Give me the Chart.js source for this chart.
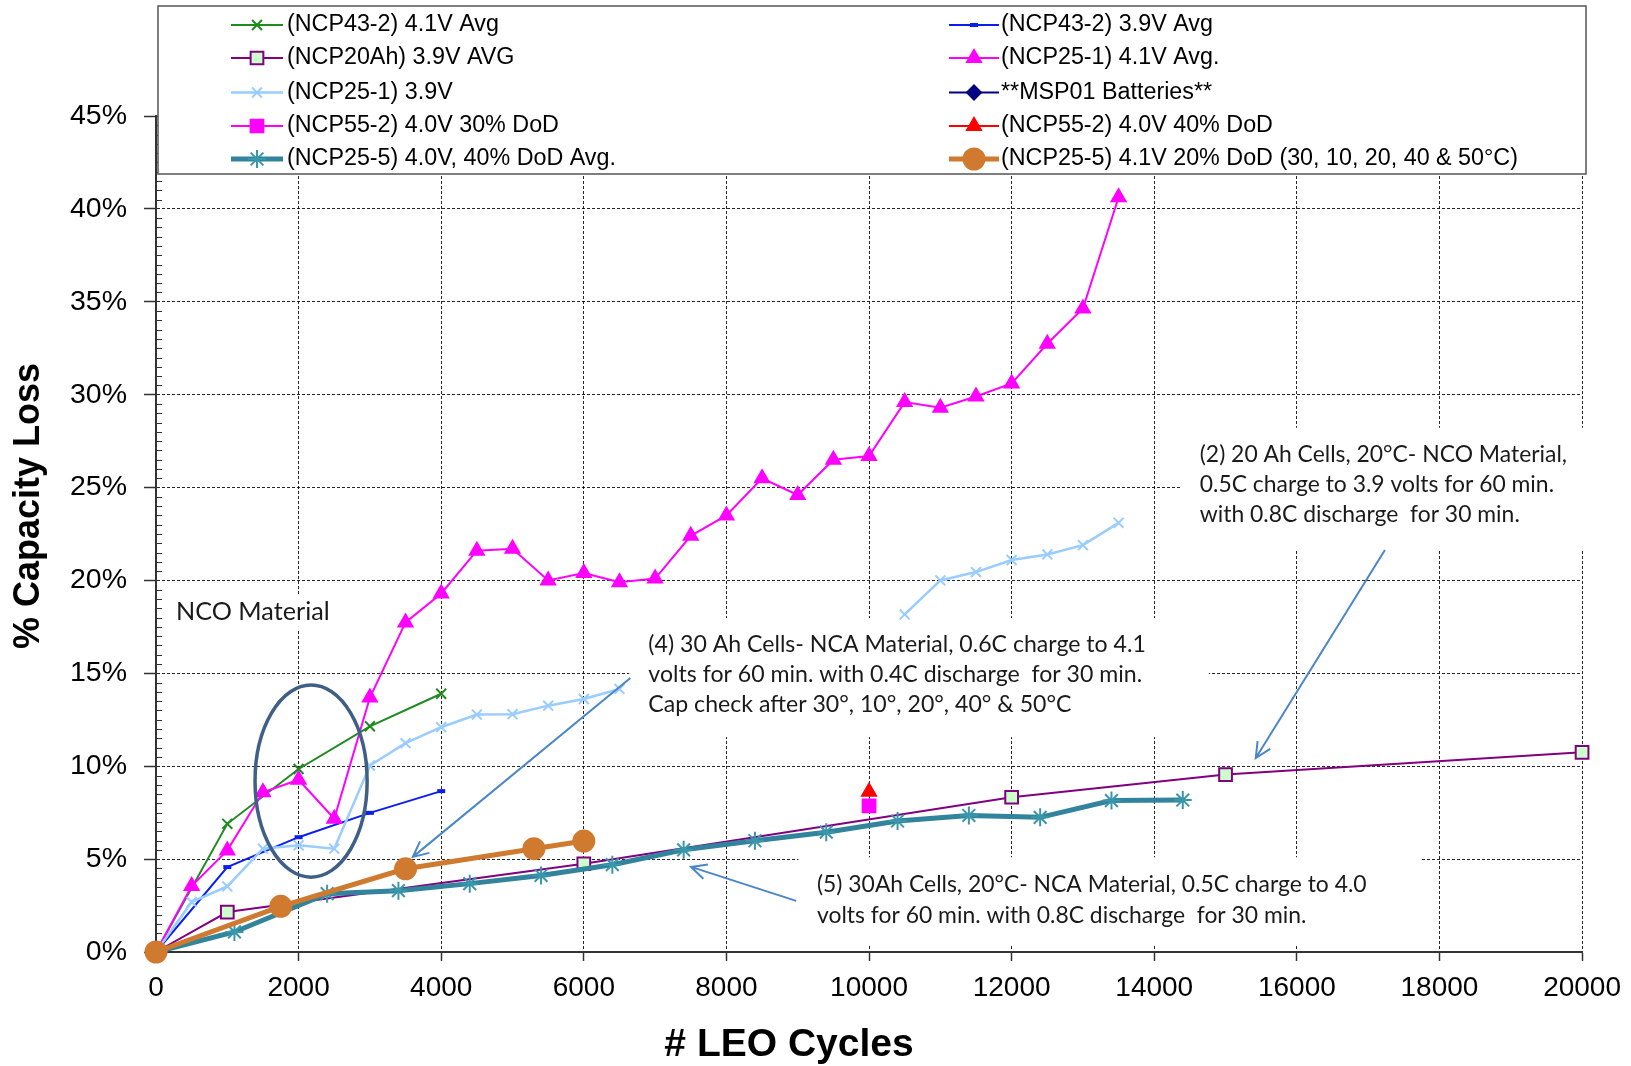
<!DOCTYPE html>
<html>
<head>
<meta charset="utf-8">
<title>% Capacity Loss vs # LEO Cycles</title>
<script src="https://cdn.jsdelivr.net/npm/chart.js"></script>
<style>
  html, body { margin: 0; padding: 0; background: #fff; }
  #wrap { width: 1631px; height: 1066px; }
</style>
</head>
<body>
<div id="wrap"><canvas id="capChart" width="1631" height="1066"></canvas></div>
<script>
// ---------- data (x = LEO cycles, y = % capacity loss) ----------
const ncp43_41_cycles = [0, 1000, 2000, 3000, 4000];
const ncp43_41_loss   = [0, 6.9, 9.85, 12.15, 13.9];

const ncp43_39_cycles = [0, 1000, 2000, 3000, 4000];
const ncp43_39_loss   = [0, 4.57, 6.18, 7.49, 8.66];

const ncp20_39_cycles = [0, 1000, 6000, 12000, 15000, 20000];
const ncp20_39_loss   = [0, 2.15, 4.75, 8.33, 9.55, 10.75];

const ncp25_41_cycles = [0, 500, 1000, 1500, 2000, 2500, 3000, 3500, 4000, 4500, 5000, 5500, 6000, 6500,
                         7000, 7500, 8000, 8500, 9000, 9500, 10000, 10500, 11000, 11500, 12000, 12500, 13000, 13500];
const ncp25_41_loss   = [0, 3.55, 5.47, 8.6, 9.27, 7.17, 13.7, 17.74, 19.3, 21.6, 21.7, 20.0, 20.4, 19.9,
                         20.1, 22.4, 23.5, 25.5, 24.6, 26.5, 26.7, 29.6, 29.3, 29.9, 30.6, 32.74, 34.64, 40.63];

const ncp25_39_cycles = [0, 500, 1000, 1500, 2000, 2500, 3000, 3500, 4000, 4500, 5000, 5500, 6000, 6500,
                         10500, 11000, 11500, 12000, 12500, 13000, 13500];
const ncp25_39_loss   = [0, 2.69, 3.53, 5.56, 5.74, 5.56, 10.04, 11.24, 12.1, 12.78, 12.8, 13.26, 13.62, 14.16,
                         18.17, 20.0, 20.45, 21.1, 21.4, 21.9, 23.1];

const msp01_cycles = [];
const msp01_loss   = [];

const ncp55_30_cycles = [10000];
const ncp55_30_loss   = [7.86];

const ncp55_40_cycles = [10000];
const ncp55_40_loss   = [8.63];

const ncp25_5_40_cycles = [0, 1100, 2400, 3400, 4400, 5400, 6400, 7400, 8400, 9400, 10400, 11400, 12400, 13400, 14400];
const ncp25_5_40_loss   = [0, 1.08, 3.14, 3.3, 3.68, 4.12, 4.7, 5.5, 5.99, 6.45, 7.05, 7.35, 7.25, 8.15, 8.18];

const ncp25_5_20_cycles = [0, 1750, 3500, 5300, 6000];
const ncp25_5_20_loss   = [0, 2.46, 4.48, 5.56, 5.97];

const seriesNames = [
  '(NCP43-2) 4.1V Avg', '(NCP43-2) 3.9V Avg',
  '(NCP20Ah) 3.9V AVG', '(NCP25-1) 4.1V Avg.',
  '(NCP25-1) 3.9V', '**MSP01 Batteries**',
  '(NCP55-2) 4.0V 30% DoD', '(NCP55-2) 4.0V 40% DoD',
  '(NCP25-5) 4.0V, 40% DoD Avg.', '(NCP25-5) 4.1V 20% DoD (30, 10, 20, 40 & 50°C)'
];

const xTickStep = 2000, xMax = 20000;
const yTickStep = 5, yMax = 45, yMinorStep = 0.5;

// ---------- annotations (in data units) ----------
const notes = [
  { lines: ['NCO Material'], x: 281, y: 18.3, width: 154, box: [210, 19.2, 2526, 17.3] },
  { lines: ['(4) 30 Ah Cells- NCA Material, 0.6C charge to 4.1',
            'volts for 60 min. with 0.4C discharge  for 30 min.',
            'Cap check after 30°, 10°, 20°, 40° & 50°C'],
    x: 6905, y: 16.53, width: 498, box: [6638, 17.98, 14765, 11.57] },
  { lines: ['(2) 20 Ah Cells, 20°C- NCO Material,',
            '0.5C charge to 3.9 volts for 60 min.',
            'with 0.8C discharge  for 30 min.'],
    x: 14638, y: 26.76, width: 367, box: [14386, 28.22, 20800, 21.64] },
  { lines: ['(5) 30Ah Cells, 20°C- NCA Material, 0.5C charge to 4.0',
            'volts for 60 min. with 0.8C discharge  for 30 min.'],
    x: 9270, y: 3.6, width: 550, box: [9011, 5.1, 17754, 0.36] }
];
const noteLineStep = 1.616;
const arrows = [
  { from: [6653, 14.75], to: [3603, 5.12] },
  { from: [8978, 2.75], to: [7504, 4.58] },
  { from: [17235, 21.64], to: [15424, 10.44] }
];
const ring = { cx: 2175, cy: 9.2, rx: 786, ry: 5.17 };

const AXIS_FONT = "'Liberation Sans', Arial, sans-serif";
const NOTE_FONT = "Lato, 'Open Sans', sans-serif";

// ---------- helpers ----------
const pts = (xs, ys) => xs.map((v, i) => ({ x: v, y: ys[i] }));

function line(label, xs, ys, color, width, style, radius, fill, pointBorder) {
  return {
    label,
    data: pts(xs, ys),
    borderColor: color,
    backgroundColor: fill || color,
    borderWidth: width,
    pointStyle: style,
    pointRadius: radius,
    pointBackgroundColor: fill || color,
    pointBorderColor: pointBorder || color,
    pointBorderWidth: 2,
    tension: 0,
    fill: false,
    clip: false
  };
}

const datasets = [
  line(seriesNames[0], ncp43_41_cycles, ncp43_41_loss, '#1f8a1f', 2, 'crossRot', 7),
  Object.assign(line(seriesNames[1], ncp43_39_cycles, ncp43_39_loss, '#0a1ef0', 2, 'line', 4), { pointBorderWidth: 4 }),
  line(seriesNames[2], ncp20_39_cycles, ncp20_39_loss, '#800080', 2, 'rect', 9, '#ccffcc', '#800080'),
  line(seriesNames[3], ncp25_41_cycles, ncp25_41_loss, '#ff00ff', 2, 'triangle', 8),
  Object.assign(line(seriesNames[4], ncp25_39_cycles, ncp25_39_loss, '#99ccff', 2.5, 'crossRot', 7), {
    // no readings between 6500 and 10500 cycles: leave the line open
    segment: { borderColor: c => (c.p1.parsed.x - c.p0.parsed.x > 3000 ? 'rgba(0,0,0,0)' : undefined) }
  }),
  line(seriesNames[5], msp01_cycles, msp01_loss, '#000080', 2, 'rectRot', 7),
  line(seriesNames[6], ncp55_30_cycles, ncp55_30_loss, '#ff00ff', 2, 'rect', 9),
  line(seriesNames[7], ncp55_40_cycles, ncp55_40_loss, '#ff0000', 2, 'triangle', 8),
  line(seriesNames[8], ncp25_5_40_cycles, ncp25_5_40_loss, '#31849b', 5, 'star', 9, '#3a97ab', '#3a97ab'),
  line(seriesNames[9], ncp25_5_20_cycles, ncp25_5_20_loss, '#d07a30', 5, 'circle', 10.5)
];
// later series sit on top, as in the original sheet
datasets.forEach((ds, i) => { ds.order = datasets.length - i; });

// ---------- drawing plugin: note boxes, minor ticks, notes, legend, axis titles ----------
function fitFont(ctx, lines, width, family) {
  ctx.font = '24px ' + family;
  const w = Math.max(...lines.map(l => ctx.measureText(l).width));
  const size = Math.max(16, Math.min(30, 24 * width / w));
  return size.toFixed(1) + 'px ' + family;
}

function drawMarker(ctx, ds, x, y) {
  ctx.fillStyle = ds.pointBackgroundColor;
  ctx.strokeStyle = ds.pointBorderColor;
  ctx.lineWidth = ds.pointBorderWidth;
  if (Chart.helpers && Chart.helpers.drawPoint) {
    Chart.helpers.drawPoint(ctx, { pointStyle: ds.pointStyle, radius: ds.pointRadius, borderWidth: ds.pointBorderWidth, rotation: 0 }, x, y);
  } else {
    ctx.beginPath();
    ctx.arc(x, y, ds.pointRadius, 0, Math.PI * 2);
    ctx.fill();
  }
}

const decor = {
  id: 'decor',
  beforeDatasetsDraw(chart) {
    const { ctx, scales: { x, y } } = chart;
    ctx.save();
    // white backing for the notes
    ctx.fillStyle = '#fff';
    notes.forEach(n => {
      const x1 = x.getPixelForValue(n.box[0]), y1 = y.getPixelForValue(n.box[1]);
      const x2 = x.getPixelForValue(n.box[2]), y2 = y.getPixelForValue(n.box[3]);
      ctx.fillRect(x1, y1, x2 - x1, y2 - y1);
    });
    // minor ticks on the % axis
    ctx.strokeStyle = '#333';
    ctx.lineWidth = 1;
    ctx.beginPath();
    for (let v = yMinorStep; v < yMax; v += yMinorStep) {
      if (Math.abs(v % yTickStep) < 1e-6) continue;
      const py = Math.round(y.getPixelForValue(v)) + 0.5;
      ctx.moveTo(x.left, py);
      ctx.lineTo(x.left + 6, py);
    }
    ctx.stroke();
    ctx.restore();
  },
  afterDatasetsDraw(chart) {
    const { ctx, scales: { x, y } } = chart;
    ctx.save();
    // note text
    ctx.fillStyle = '#1a1a1a';
    ctx.textBaseline = 'middle';
    ctx.textAlign = 'left';
    notes.forEach(n => {
      ctx.font = fitFont(ctx, n.lines, n.width, NOTE_FONT);
      n.lines.forEach((l, i) => {
        ctx.fillText(l, x.getPixelForValue(n.x), y.getPixelForValue(n.y - i * noteLineStep));
      });
    });
    // arrows
    ctx.strokeStyle = '#4a86c8';
    ctx.lineWidth = 2;
    arrows.forEach(a => {
      const x1 = x.getPixelForValue(a.from[0]), y1 = y.getPixelForValue(a.from[1]);
      const x2 = x.getPixelForValue(a.to[0]), y2 = y.getPixelForValue(a.to[1]);
      const ang = Math.atan2(y2 - y1, x2 - x1), head = 17, spread = 0.45;
      ctx.beginPath();
      ctx.moveTo(x1, y1);
      ctx.lineTo(x2, y2);
      ctx.moveTo(x2 - head * Math.cos(ang - spread), y2 - head * Math.sin(ang - spread));
      ctx.lineTo(x2, y2);
      ctx.lineTo(x2 - head * Math.cos(ang + spread), y2 - head * Math.sin(ang + spread));
      ctx.stroke();
    });
    // ellipse around the 2000-2500 cycle points
    const cx = x.getPixelForValue(ring.cx), cy = y.getPixelForValue(ring.cy);
    const rx = x.getPixelForValue(ring.cx + ring.rx) - cx, ry = cy - y.getPixelForValue(ring.cy + ring.ry);
    ctx.strokeStyle = '#3f5f86';
    ctx.lineWidth = 3.5;
    ctx.beginPath();
    ctx.ellipse(cx, cy, rx, ry, 0, 0, Math.PI * 2);
    ctx.stroke();
    ctx.restore();
  },
  afterDraw(chart) {
    const ctx = chart.ctx;
    ctx.save();
    // legend box laid over the top of the plot
    const L = { left: 158, top: 6, right: 1586, bottom: 174 };
    const cols = [{ from: 231, to: 283, text: 287 }, { from: 949, to: 999, text: 1001 }];
    const rows = [25, 58, 92.5, 126, 159];
    ctx.fillStyle = '#fff';
    ctx.fillRect(L.left, L.top, L.right - L.left, L.bottom - L.top);
    ctx.strokeStyle = '#555';
    ctx.lineWidth = 1.5;
    ctx.strokeRect(L.left, L.top, L.right - L.left, L.bottom - L.top);
    ctx.font = '23.3px ' + AXIS_FONT;
    ctx.textBaseline = 'middle';
    ctx.textAlign = 'left';
    chart.data.datasets.forEach((ds, i) => {
      const c = cols[i % 2], ry = rows[Math.floor(i / 2)];
      ctx.strokeStyle = ds.borderColor;
      ctx.lineWidth = ds.borderWidth;
      ctx.beginPath();
      ctx.moveTo(c.from, ry);
      ctx.lineTo(c.to, ry);
      ctx.stroke();
      drawMarker(ctx, ds, (c.from + c.to) / 2, ry);
      ctx.fillStyle = '#000';
      ctx.fillText(ds.label, c.text, ry);
    });
    // axis titles
    ctx.fillStyle = '#000';
    ctx.textAlign = 'center';
    ctx.font = 'bold 39px ' + AXIS_FONT;
    ctx.fillText('# LEO Cycles', 789, 1045);
    ctx.translate(29, 506);
    ctx.rotate(-Math.PI / 2);
    ctx.font = 'bold 36px ' + AXIS_FONT;
    ctx.fillText('% Capacity Loss', 0, 0);
    ctx.restore();
  }
};

// ---------- chart ----------
const ctx = document.getElementById('capChart').getContext('2d');

new Chart(ctx, {
  type: 'line',
  data: { datasets },
  plugins: [decor],
  options: {
    responsive: false,
    animation: false,
    layout: { padding: { top: 116, right: 48, left: 0, bottom: 0 } },
    plugins: { legend: { display: false }, tooltip: { enabled: false } },
    scales: {
      x: {
        type: 'linear',
        min: 0,
        max: xMax,
        ticks: { stepSize: xTickStep, color: '#000', padding: 10, maxRotation: 0,
                 font: { family: AXIS_FONT, size: 28 }, callback: v => String(v) },
        grid: { color: 'rgba(0,0,0,0.85)', lineWidth: 1, tickLength: 9, tickColor: '#333', tickWidth: 1.5 },
        border: { display: true, color: '#333', width: 2, dash: [3, 2] },
        afterFit: s => { s.height = 114; }
      },
      y: {
        type: 'linear',
        min: 0,
        max: yMax,
        ticks: { stepSize: yTickStep, color: '#000', padding: 17,
                 font: { family: AXIS_FONT, size: 28.5 }, callback: v => v + '%' },
        grid: { color: 'rgba(0,0,0,0.85)', lineWidth: 1, tickLength: 12, tickColor: '#333', tickWidth: 1.5 },
        border: { display: true, color: '#333', width: 2, dash: [3, 2] },
        afterFit: s => { s.width = 156; }
      }
    }
  }
});
</script>
</body>
</html>
